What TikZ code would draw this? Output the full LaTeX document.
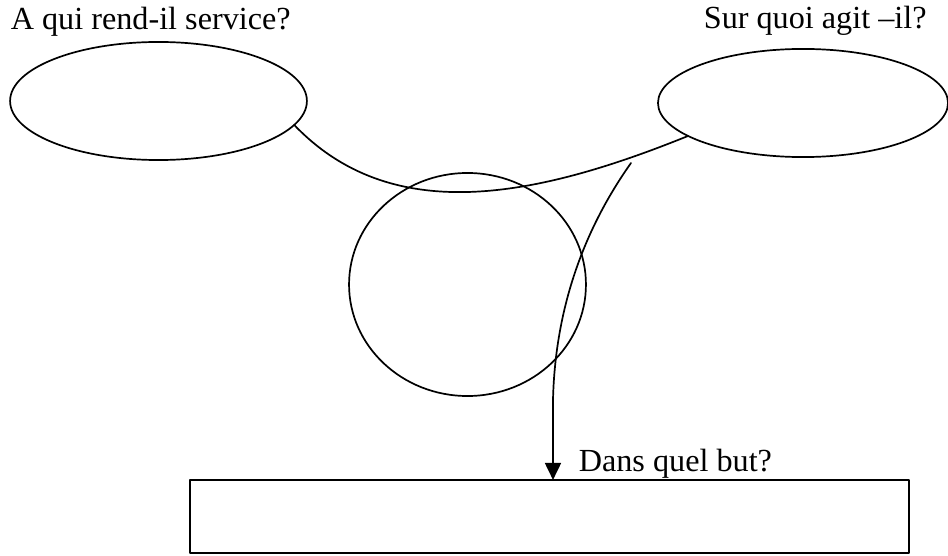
\documentclass[tikz,border=0pt]{standalone}
\usepackage{fontspec}
\setmainfont{Liberation Serif}
\usetikzlibrary{shapes.geometric,arrows.meta}
\begin{document}
\begin{tikzpicture}[x=0.382pt,y=-0.382pt,font=\fontsize{12.3}{14}\selectfont,
line join=round,line cap=round,line width=0.65pt,
bulle/.style={draw,ellipse,inner sep=0pt,outer sep=0pt},
question/.style={anchor=base west,inner sep=0pt}]
\useasboundingbox (0,0) rectangle (948,556);
\node[bulle,minimum width=113.4pt,minimum height=45.1pt] (gauche) at (158.5,101) {};
\node[bulle,minimum width=110.8pt,minimum height=41.3pt] (droite) at (803,103) {};
\node[bulle,minimum width=90.5pt,minimum height=85.2pt] (centre) at (467.5,284.5) {};
\node[draw,rectangle,inner sep=0pt,outer sep=0pt,minimum width=274.7pt,minimum height=27.9pt] (cadre) at (549.5,516.5) {};
\path
(10,30) node[question] (qui) {A qui rend-il service?}
(703,29) node[question] (quoi) {Sur quoi agit –il?}
(578,472) node[question] (but) {Dans quel but?};
\coordinate (depart) at (631,163);
\coordinate (coude) at (553,400);
\coordinate (pointe) at (553,480);
\draw (gauche.-10) .. controls (390,225) and (530,200) .. (droite.196);
\draw (depart) .. controls (580,235) and (555,315) .. (coude);
\draw[line width=1pt,-{Triangle[width=6pt,length=6.5pt]}] (coude)--(pointe);
\end{tikzpicture}
\end{document}
